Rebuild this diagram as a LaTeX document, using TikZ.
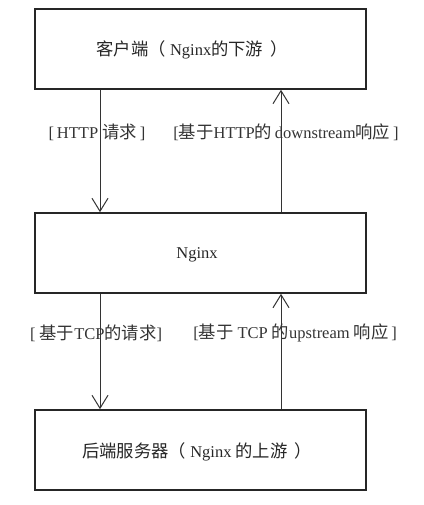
\documentclass[tikz,border=0pt]{standalone}
\usepackage{fontspec}
\setmainfont{Liberation Serif}
\newfontfamily\cjk{Noto Sans CJK SC}[Scale=1.05]
\usetikzlibrary{arrows.meta}
\begin{document}
\begin{tikzpicture}[x=1pt,y=-1pt,
  font=\fontsize{16.5}{20}\selectfont,
  box/.style={draw=black!85, line width=1.6pt, minimum width=331pt, minimum height=80pt, inner sep=0pt},
  conn/.style={draw=black!80, line width=1pt, -{Straight Barb[length=13pt,width=16pt,line width=1pt]}},
  txt/.style={inner sep=0pt, text=black!85},
  lbl/.style={inner sep=0pt, text=black!80}]
\useasboundingbox (0,0) rectangle (423,505);
\node[box] (b1) at (200.5,49) {};
\node[box] (b2) at (200.5,253) {};
\node[box] (b3) at (200.5,450) {};
\node[txt] (t1) at (192,50) {{\cjk 客户端（}\ Nginx{\cjk 的下游}\ \,{\cjk ）}};
\node[txt] (t2) at (197,255) {Nginx};
\node[txt] (t3) at (197,452) {{\cjk 后端服务器（}\ Nginx {\cjk 的上游}\ \,{\cjk ）}};
\coordinate (xl) at (100,0);
\coordinate (xr) at (281,0);
\draw[conn] (b1.south -| xl) -- (b2.north -| xl);
\draw[conn] (b2.north -| xr) -- (b1.south -| xr);
\draw[conn] (b2.south -| xl) -- (b3.north -| xl);
\draw[conn] (b3.north -| xr) -- (b2.south -| xr);
\node[lbl] (l1) at (97,132) {[\,HTTP\ {\cjk 请求}\,]};
\node[lbl] (l2) at (286,132) {[{\cjk 基于}HTTP{\cjk 的}\,downstream{\cjk 响应}\,]};
\node[lbl] (l3) at (96,333) {[\ {\cjk 基于}TCP{\cjk 的请求}]};
\node[lbl] (l4) at (295,333) {[{\cjk 基于}\ TCP\ {\cjk 的}upstream\ {\cjk 响应}\,]};
\end{tikzpicture}
\end{document}
